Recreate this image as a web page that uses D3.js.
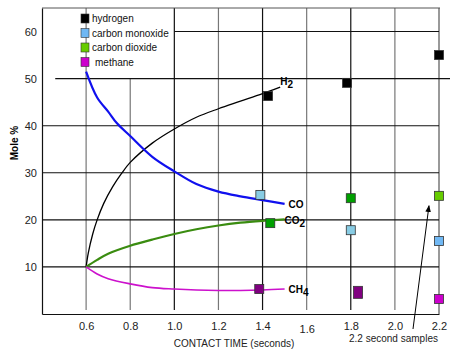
<!DOCTYPE html>
<html>
<head>
<meta charset="utf-8">
<script src="https://cdn.jsdelivr.net/npm/d3@7"></script>
<style>
  body { margin: 0; background: #fff; }
  svg { font-family: Arial, "Liberation Sans", sans-serif; }
</style>
</head>
<body>
<svg id="chart" width="450" height="352"></svg>
<script>
// Curves (contact time in seconds, mole %)
const h2Curve = [[0.6, 10], [0.61, 13], [0.63, 17], [0.65, 20], [0.68, 23.5], [0.72, 27], [0.76, 29.8],
                 [0.8, 32.2], [0.9, 36.3], [1.0, 39.3], [1.1, 41.8], [1.2, 43.6], [1.3, 45.2], [1.4, 46.8], [1.48, 48.2]];
const coCurve = [[0.6, 51.5], [0.65, 46], [0.7, 43], [0.74, 40.5], [0.8, 37.8], [0.9, 33.4],
                 [1.0, 30.3], [1.1, 27.6], [1.2, 26], [1.3, 25], [1.4, 24.2], [1.5, 23.4]];
const co2Curve = [[0.6, 10], [0.65, 11.5], [0.7, 12.8], [0.8, 14.5], [0.9, 15.8], [1.0, 17],
                  [1.1, 18], [1.2, 18.8], [1.3, 19.4], [1.4, 19.8], [1.5, 20.1]];
const ch4Curve = [[0.6, 10], [0.65, 8.5], [0.7, 7.5], [0.8, 6.4], [0.9, 5.6], [1.0, 5.3],
                  [1.1, 5.1], [1.2, 5.0], [1.3, 5.0], [1.4, 5.1], [1.5, 5.3]];

// Sample points: [time, value, colour]
const h2Points = [[1.425, 46.3, '#000000'], [1.783, 49.1, '#000000'], [2.2, 55.0, '#000000']];
const coPoints = [[1.39, 25.3, '#88cce4'], [1.8, 17.8, '#88cce4'], [2.2, 15.5, '#70b8f4']];
const co2Points = [[1.435, 19.3, '#00a000'], [1.8, 24.6, '#00a000'], [2.2, 25.1, '#66cc00']];
const ch4Points = [[1.385, 5.3, '#800080'], [1.833, 4.6, '#800080'], [2.2, 3.2, '#cc00cc']];

const legendNames = ['hydrogen', 'carbon monoxide', 'carbon dioxide', 'methane'];
const legendColors = ['#000000', '#70b8f4', '#66cc00', '#cc00cc'];

const xTicks = [0.6, 0.8, 1.0, 1.2, 1.4, 1.6, 1.8, 2.0, 2.2];
const yTicks = [10, 20, 30, 40, 50, 60];

const svg = d3.select('#chart');

const x = d3.scaleLinear().domain([0.4, 2.2]).range([42, 439]);
const y = d3.scaleLinear().domain([0, 65]).range([314, 8]);

// grid
const grid = svg.append('g');
grid.selectAll('.vgrid')
    .data(xTicks)
    .enter()
    .append('line')
    .attr('x1', d => x(d)).attr('x2', d => x(d))
    .attr('y1', d => d === 0.8 ? y(50) : y(65))
    .attr('y2', d => d === 2.2 ? y(0) : y(0) - 4)
    .attr('stroke', d => [1.0, 1.4, 1.8].includes(d) ? '#111' : '#777')
    .attr('stroke-width', d => d === 2.2 ? 1.5 : 1.2);

grid.selectAll('.hgrid')
    .data(yTicks)
    .enter()
    .append('line')
    .attr('x1', d => d === 60 ? x(1.0) : d === 50 ? x(0.46) : x(0.4))
    .attr('x2', d => d === 50 ? 450 : x(2.2))
    .attr('y1', d => y(d)).attr('y2', d => y(d))
    .attr('stroke', '#111')
    .attr('stroke-width', 1.1);

// top border
grid.append('line')
    .attr('x1', x(0.4)).attr('x2', x(2.2) + 1)
    .attr('y1', y(65)).attr('y2', y(65))
    .attr('stroke', '#555').attr('stroke-width', 1);

// axes
const xAxis = svg.append('g')
    .attr('transform', 'translate(0,' + y(0) + ')')
    .call(d3.axisBottom(x).tickValues(xTicks).tickSize(0).tickPadding(8).tickFormat(d3.format('.1f')));
xAxis.select('.domain').attr('stroke', '#111').attr('stroke-width', 1.2);
xAxis.selectAll('text').attr('font-size', 11).attr('fill', '#222').attr('font-family', 'Arial');
xAxis.selectAll('.tick').filter(d => d === 1.6).select('text').attr('dy', '1.0em');

const yAxis = svg.append('g')
    .attr('transform', 'translate(' + x(0.4) + ',0)')
    .call(d3.axisLeft(y).tickValues(yTicks).tickSize(0).tickPadding(5));
yAxis.select('.domain').attr('stroke', '#111').attr('stroke-width', 1.2);
yAxis.selectAll('text').attr('font-size', 11).attr('fill', '#222').attr('font-family', 'Arial');

// axis titles
svg.append('text')
    .attr('transform', 'translate(18,143) rotate(-90)')
    .attr('text-anchor', 'middle')
    .attr('font-size', 10).attr('font-weight', 'bold')
    .text('Mole %');

svg.append('text')
    .attr('x', 234).attr('y', 347)
    .attr('text-anchor', 'middle')
    .attr('font-size', 10).attr('fill', '#222')
    .text('CONTACT TIME (seconds)');

// curves
const line = d3.line().x(d => x(d[0])).y(d => y(d[1])).curve(d3.curveCatmullRom);
const curves = [
    [h2Curve, '#000', 1.3],
    [coCurve, '#1010ee', 2.2],
    [co2Curve, '#3a8c10', 2.2],
    [ch4Curve, '#cc11cc', 1.6]
];
svg.append('g')
    .selectAll('path')
    .data(curves)
    .enter()
    .append('path')
    .attr('d', d => line(d[0]))
    .attr('fill', 'none')
    .attr('stroke', d => d[1])
    .attr('stroke-width', d => d[2]);

// curve labels
function subLabel(px, py, main, sub) {
    const t = svg.append('text')
        .attr('x', px).attr('y', py)
        .attr('font-size', 10).attr('font-weight', 'bold');
    t.append('tspan').text(main);
    if (sub) t.append('tspan').attr('dy', 3).attr('font-size', 10).text(sub);
}
subLabel(x(1.48) + 0, y(48.2) - 2, 'H', '2');
subLabel(x(1.5) + 4, y(23.4) + 4, 'CO');
subLabel(x(1.5) + 0, y(20.1) + 5, 'CO', '2');
subLabel(x(1.5) + 4, y(5.3) + 4, 'CH', '4');

// sample squares
const allPoints = h2Points.concat(coPoints, co2Points, ch4Points);
svg.append('g')
    .selectAll('rect')
    .data(allPoints)
    .enter()
    .append('rect')
    .attr('x', d => x(d[0]) - 4.5)
    .attr('y', d => y(d[1]) - (d[0] === 1.833 ? 6 : 4.5))
    .attr('width', 9)
    .attr('height', d => d[0] === 1.833 ? 12 : 9)
    .attr('fill', d => d[2])
    .attr('stroke', '#333')
    .attr('stroke-width', 0.8);

// legend
const legend = svg.append('g');
legendNames.forEach((name, i) => {
    const ly = 19 + i * 14.5;
    legend.append('rect')
        .attr('x', 81).attr('y', ly - 5)
        .attr('width', 8).attr('height', 9)
        .attr('fill', legendColors[i])
        .attr('stroke', '#333').attr('stroke-width', 0.6);
    legend.append('text')
        .attr('x', i === 3 ? 95 : 92).attr('y', ly + 3)
        .attr('font-size', 10).attr('fill', '#111')
        .text(name);
});

// annotation arrow
svg.append('defs').append('marker')
    .attr('id', 'arrow')
    .attr('viewBox', '0 0 10 10')
    .attr('refX', 9).attr('refY', 5)
    .attr('markerWidth', 7).attr('markerHeight', 7)
    .attr('orient', 'auto')
    .append('path')
    .attr('d', 'M0,1 L10,5 L0,9 Z')
    .attr('fill', '#000');

svg.append('line')
    .attr('x1', 413).attr('y1', 329)
    .attr('x2', x(2.15) + 1).attr('y2', y(23))
    .attr('stroke', '#000').attr('stroke-width', 1)
    .attr('marker-end', 'url(#arrow)');

svg.append('text')
    .attr('x', 349).attr('y', 342)
    .attr('font-size', 10).attr('fill', '#222')
    .text('2.2 second samples');
</script>
</body>
</html>
